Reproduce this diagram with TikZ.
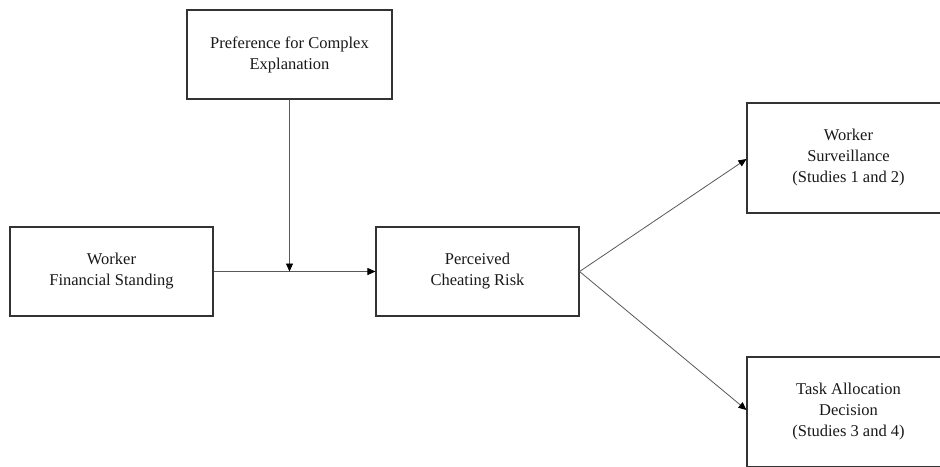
\documentclass[tikz,border=0pt]{standalone}
\usepackage{fontspec}
\setmainfont{Liberation Serif}
\usetikzlibrary{arrows.meta}
\begin{document}
\begin{tikzpicture}[x=1pt,y=-1pt,
  box/.style={draw=black!80,line width=1.1pt,fill=white,inner sep=0pt,
    align=center,font=\fontsize{16.5}{21}\selectfont,text=black!90},
  conn/.style={draw=black!65,line width=0.8pt,
    -{Triangle[length=8pt,width=7pt,color=black]}}]
\useasboundingbox (0,0) rectangle (940,466);
\clip (0,0) rectangle (940,466);
\fill[white] (0,0) rectangle (940,466);
\node[box,minimum width=205pt,minimum height=89pt] (pref) at (289.5,54.5) {Preference for Complex\\Explanation};
\node[box,minimum width=203pt,minimum height=89pt] (fin) at (111.5,271.5) {Worker\\Financial Standing};
\node[box,minimum width=203pt,minimum height=89pt] (risk) at (477.5,271.5) {Perceived\\Cheating Risk};
\node[box,minimum width=203pt,minimum height=110pt] (surv) at (848.5,158) {Worker\\Surveillance\\(Studies 1 and 2)};
\node[box,minimum width=203pt,minimum height=110pt] (task) at (848.5,412) {Task Allocation\\Decision\\(Studies 3 and 4)};
\coordinate (j) at (pref.south |- fin.east);
\coordinate (sin) at (surv.west |- 0,159);
\coordinate (tin) at (task.west |- 0,410);
\draw[conn] (fin.east) -- (risk.west);
\draw[conn] (pref.south) -- (j);
\draw[conn] (risk.east) -- (sin);
\draw[conn] (risk.east) -- (tin);
\end{tikzpicture}
\end{document}
